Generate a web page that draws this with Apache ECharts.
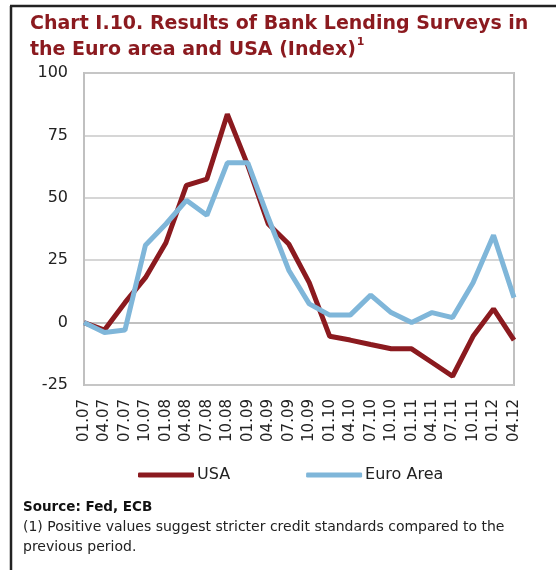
<!DOCTYPE html>
<html>
<head>
<meta charset="utf-8">
<script src="https://cdn.jsdelivr.net/npm/echarts@6/dist/echarts.min.js"></script>
<style>
  html, body { margin: 0; padding: 0; background: #fff; }
  #main { width: 556px; height: 570px; }
</style>
</head>
<body>
<div id="main"></div>
<script>
// 季度标签
const quarters = ['01.07','04.07','07.07','10.07','01.08','04.08','07.08','10.08','01.09','04.09','07.09',
  '10.09','01.10','04.10','07.10','10.10','01.11','04.11','07.11','10.11','01.12','04.12']
// 美国
const usa = [0, -3, 8, 18, 32, 55, 57.5, 83.5, 63, 39.5, 31.5, 16, -5.5, -7, -8.8, -10.5, -10.5, -16, -21.5, -5.5, 5.5, -7]
// 欧元区
const euroArea = [0, -4, -3, 31, 39.5, 49, 43, 64, 64, 42, 21, 7.5, 3, 3, 11, 4, 0, 4, 2, 16, 35, 10]
const yTicks = [-25, 0, 25, 50, 75, 100]

const red = '#8b1a1f'
const blue = '#7fb6d9'
const font = 'DejaVu Sans'

const myChart = echarts.init(document.querySelector('#main'))

const option = {
  animation: false,
  // 标题
  title: {
    left: 25,
    top: 6,
    text: '{a|Chart I.10. Results of Bank Lending Surveys in}\n{a|the Euro area and USA (Index)}{s|1}',
    textStyle: {
      rich: {
        a: { fontFamily: font, fontWeight: 'bold', fontSize: 19, color: red, lineHeight: 26 },
        s: { fontFamily: font, fontWeight: 'bold', fontSize: 11, color: red, verticalAlign: 'top', lineHeight: 26, padding: [0, 0, 8, 1] }
      }
    }
  },
  legend: {
    top: 462,
    left: 133,
    itemGap: 76,
    itemWidth: 56,
    itemHeight: 5,
    icon: 'roundRect',
    textStyle: { fontFamily: font, fontSize: 16, color: '#222', padding: [0, 0, 0, -2] },
    data: ['USA', 'Euro Area']
  },
  grid: {
    left: 84,
    right: 42,
    top: 73,
    bottom: 185,
    show: true,
    borderColor: '#c0c0c0',
    borderWidth: 2
  },
  xAxis: {
    type: 'category',
    boundaryGap: false,
    data: quarters,
    axisLine: { lineStyle: { color: '#c0c0c0', width: 2 } },
    axisTick: { show: false },
    axisLabel: {
      rotate: 90,
      interval: 0,
      margin: 14,
      fontFamily: font,
      fontSize: 15,
      color: '#222'
    }
  },
  yAxis: {
    type: 'value',
    min: yTicks[0],
    max: yTicks[yTicks.length - 1],
    interval: 25,
    axisLine: { show: true, lineStyle: { color: '#c0c0c0', width: 2 } },
    axisTick: { show: false },
    splitLine: { lineStyle: { color: '#c8c8c8', width: 1.5 } },
    axisLabel: { fontFamily: font, fontSize: 16, color: '#222', margin: 16 }
  },
  series: [
    {
      name: 'USA',
      type: 'line',
      data: usa,
      symbol: 'none',
      lineStyle: { width: 5, color: red },
      itemStyle: { color: red }
    },
    {
      name: 'Euro Area',
      type: 'line',
      data: euroArea,
      symbol: 'none',
      lineStyle: { width: 5, color: blue },
      itemStyle: { color: blue }
    }
  ],
  // 外框和注释
  graphic: [
    { type: 'line', shape: { x1: 10, y1: 6, x2: 556, y2: 6 }, style: { stroke: '#222', lineWidth: 2.5 } },
    { type: 'line', shape: { x1: 11, y1: 6, x2: 11, y2: 570 }, style: { stroke: '#222', lineWidth: 2.5 } },
    {
      type: 'text', left: 23, top: 500,
      style: { text: 'Source: Fed, ECB', font: 'bold 13.5px "DejaVu Sans"', fill: '#111' }
    },
    {
      type: 'text', left: 23, top: 517,
      style: {
        text: '(1) Positive values suggest stricter credit standards compared to the\nprevious period.',
        font: '14px "DejaVu Sans"', fill: '#222', lineHeight: 20
      }
    }
  ]
}

myChart.setOption(option)
</script>
</body>
</html>
